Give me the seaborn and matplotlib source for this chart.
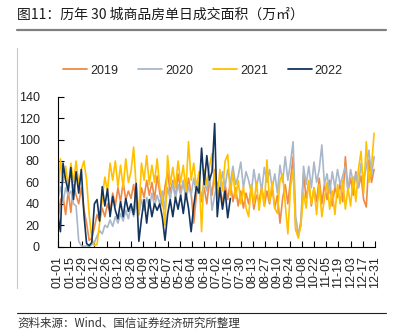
import numpy as np
import pandas as pd
import matplotlib
matplotlib.use("Agg")
import matplotlib.pyplot as plt
import seaborn as sns
from matplotlib.lines import Line2D

# ---------------- data (values every 3 days, starting 01-01) ----------------
years = ["2019", "2020", "2021", "2022"]

v2019 = [20, 44, 47, 30, 52, 32, 58, 48, 40, 55, 35,
         22, 6, 8, 18, 30, 24, 36, 28, 40,
         32, 50, 38, 55, 42, 60, 44, 52, 45, 58,
         40, 30, 55, 46, 62, 48, 60, 44, 66, 50,
         38, 56, 70, 50, 62, 45, 68, 52, 60, 46, 64,
         50, 22, 48, 58, 42, 55, 40, 62, 48, 72,
         45, 56, 40, 58, 44, 60, 42, 55, 38, 52,
         36, 50, 40, 55, 35, 48, 42, 56, 38, 52,
         40, 55, 36, 48, 22, 45, 58, 40, 62, 84,
         16, 10, 24, 68, 45, 60, 38, 55, 42, 64, 40,
         58, 44, 62, 38, 56, 46, 60, 42, 84, 52,
         64, 48, 70, 55, 66, 44, 37, 81, 60, 72]

v2020 = [44, 56, 42, 55, 48, 52, 40, 38, 5, 1, 0,
         1, 0, 2, 4, 10, 15, 12, 20, 18,
         25, 19, 28, 22, 31, 24, 34, 26, 38, 28,
         40, 30, 44, 34, 46, 36, 50, 38, 48, 40,
         52, 35, 55, 44, 60, 45, 58, 48, 62, 44, 56,
         48, 64, 50, 60, 45, 62, 52, 66, 34, 48,
         60, 54, 70, 56, 72, 60, 75, 58, 66, 79,
         55, 70, 62, 50, 72, 56, 68, 52, 74, 60,
         72, 55, 68, 50, 76, 60, 84, 62, 78, 98,
         28, 12, 20, 75, 58, 75, 55, 79, 60, 72, 95,
         58, 68, 50, 70, 55, 72, 58, 66, 75, 52,
         72, 60, 68, 55, 78, 62, 74, 90, 66, 84]

v2021 = [38, 82, 60, 75, 55, 78, 60, 80, 58, 72, 80,
         62, 30, 8, 1, 2, 22, 45, 65, 52,
         78, 62, 80, 56, 76, 55, 82, 60, 70, 93,
         55, 30, 78, 62, 85, 58, 76, 60, 82, 55,
         45, 20, 85, 58, 74, 55, 80, 60, 76, 52, 98,
         62, 78, 55, 70, 14, 72, 58, 75, 87, 60,
         45, 72, 52, 80, 86, 48, 70, 45, 62, 40,
         56, 36, 28, 58, 40, 60, 34, 55, 38, 81,
         42, 60, 36, 31, 62, 68, 40, 12, 55, 72,
         16, 8, 20, 50, 36, 62, 40, 55, 30, 58, 28,
         45, 60, 35, 52, 30, 58, 40, 62, 35, 55,
         38, 65, 42, 72, 89, 50, 98, 60, 75, 106]

v2022 = [30, 14, 78, 62, 52, 74, 44, 70, 50, 72, 30,
         3, 1, 4, 40, 44, 24, 56, 38, 54,
         28, 47, 34, 26, 42, 28, 45, 33, 40, 30,
         59, 5, 26, 44, 22, 44, 28, 40, 34, 40,
         27, 6, 30, 44, 28, 46, 35, 48, 31, 50, 36,
         14, 38, 56, 50, 92, 58, 85, 62, 70, 115,
         28, 55, 35, 52, 27, 45]

tick_labels = ["01-01", "01-15", "01-29", "02-12", "02-26", "03-12", "03-26",
               "04-09", "04-23", "05-07", "05-21", "06-04", "06-18", "07-02",
               "07-16", "07-30", "08-13", "08-27", "09-10", "09-24", "10-08",
               "10-22", "11-05", "11-19", "12-03", "12-17", "12-31"]

colors = {"2019": "#EE8A45", "2020": "#A8B7C9", "2021": "#FFC000", "2022": "#13345F"}

series = {"2019": v2019, "2020": v2020, "2021": v2021, "2022": v2022}
frames = []
for y in years:
    vals = series[y]
    frames.append(pd.DataFrame({"day": 3 * np.arange(len(vals)), "value": vals, "year": y}))
df = pd.concat(frames, ignore_index=True)

# ---------------- figure ----------------
sns.set_style("ticks")
plt.rcParams["font.family"] = ["Liberation Sans", "Noto Sans CJK SC"]
cjk = ["Noto Sans CJK SC", "DejaVu Sans"]

fig = plt.figure(figsize=(4.02, 3.31), dpi=100)
ax = fig.add_axes([0.1438, 0.2547, 0.9328 - 0.1438, 0.7079 - 0.2547])

sns.lineplot(data=df, x="day", y="value", hue="year", hue_order=years,
             palette=colors, linewidth=1.2, ax=ax, legend=False)

ax.set_xlim(0, 364)
ax.set_ylim(0, 140)
ax.set_yticks(np.arange(0, 141, 20))
ax.set_xticks(np.arange(0, 365, 14))
ax.set_xticklabels(tick_labels, rotation=90, fontsize=9)
ax.tick_params(axis="y", labelsize=9, direction="in", length=4, width=0.8, pad=13,
               colors="black", labelcolor="#222222")
ax.tick_params(axis="x", direction="in", length=4, width=0.8, pad=7,
               colors="black", labelcolor="#222222")
ax.set_xlabel("")
ax.set_ylabel("")
for s in ["top", "right"]:
    ax.spines[s].set_visible(False)
for s in ["left", "bottom"]:
    ax.spines[s].set_color("black")
    ax.spines[s].set_linewidth(0.8)

handles = [Line2D([0], [0], color=colors[y], lw=1.3) for y in years]
fig.legend(handles, years, loc="center", bbox_to_anchor=(0.505, 0.786), ncol=4,
           frameon=False, fontsize=9, handlelength=1.9, handletextpad=0.25,
           columnspacing=1.6)

# title and decorations
fig.text(17 / 402, 1 - 15 / 331, "图11：历年 30 城商品房单日成交面积（万㎡）",
         fontsize=10, family=cjk, ha="left", va="center", color="#1a1a1a")
fig.add_artist(Line2D([17 / 402, 386 / 402], [1 - 30 / 331, 1 - 30 / 331],
                      color="#808080", lw=1.6, transform=fig.transFigure))
fig.add_artist(Line2D([16.7 / 402, 16.7 / 402], [1 - 48 / 331, 1 - 288 / 331],
                      color="#C8C8C8", lw=0.8, transform=fig.transFigure))
fig.add_artist(Line2D([17 / 402, 386 / 402], [1 - 312.7 / 331, 1 - 312.7 / 331],
                      color="#222222", lw=0.8, transform=fig.transFigure))
fig.text(17 / 402, 1 - 329.5 / 331, "资料来源：Wind、国信证券经济研究所整理",
         fontsize=8.3, family=cjk, ha="left", va="bottom", color="#333333")

fig.savefig("out.png", dpi=100)
